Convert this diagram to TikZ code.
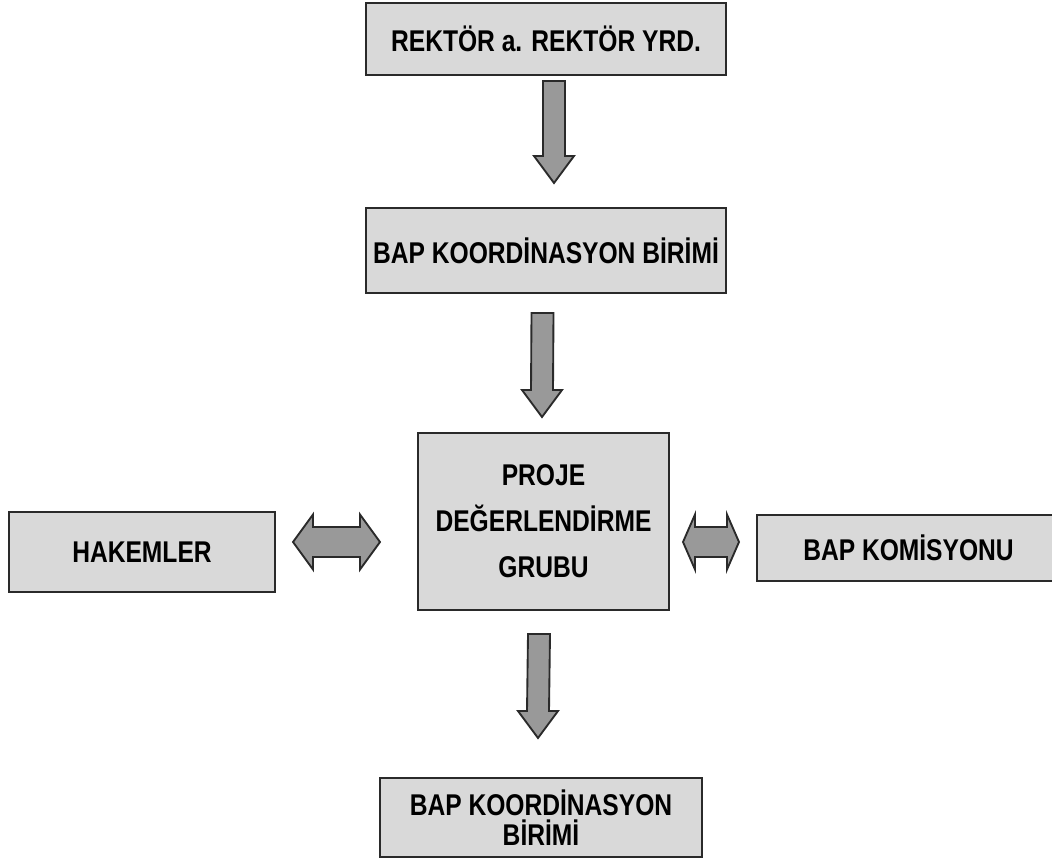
\documentclass[tikz,border=0pt]{standalone}
\usepackage{fontspec}
\setmainfont{Liberation Sans}[FakeStretch=0.82]
\usetikzlibrary{calc}

\definecolor{kutugri}{HTML}{D9D9D9}
\definecolor{okgri}{HTML}{999999}
\definecolor{kenar}{HTML}{2A2A2A}

\tikzset{
  kutu/.style={draw=kenar, line width=1.5pt, fill=kutugri, inner sep=0pt,
    align=center, font=\fontsize{22.5}{34.5}\selectfont\bfseries},
  okstil/.style={draw=kenar, line width=1.4pt, fill=okgri, line join=miter}
}

\newcommand{\asagiok}[2]{%
  \draw[okstil] ($(#1)+(-11,0)$) -- ($(#2)+(-11,-27)$) -- ($(#2)+(-20,-27)$)
    -- (#2) -- ($(#2)+(20,-27)$) -- ($(#2)+(11,-27)$) -- ($(#1)+(11,0)$) -- cycle;}
\newcommand{\ciftok}[3]{%
  \draw[okstil] (#1) -- ($(#1)+(#3,-27.5)$) -- ($(#1)+(#3,-15)$)
    -- ($(#2)+(-#3,-15)$) -- ($(#2)+(-#3,-27.5)$) -- (#2)
    -- ($(#2)+(-#3,27.5)$) -- ($(#2)+(-#3,15)$)
    -- ($(#1)+(#3,15)$) -- ($(#1)+(#3,27.5)$) -- cycle;}

\begin{document}
\begin{tikzpicture}[x=0.75pt, y=-0.75pt]
        \useasboundingbox (0,0) rectangle (1052,859);
        \clip (0,0) rectangle (1052,859);
        \node[kutu, minimum width=270pt, minimum height=54pt] (rektor) at (546,39) {REKTÖR a. REKTÖR YRD.};
        \node[kutu, minimum width=270pt, minimum height=63.75pt] (bap) at (546,250.5) {BAP KOORDİNASYON BİRİMİ};
        \node[kutu, minimum width=188.25pt, minimum height=132.75pt] (grup) at (543.5,521.5) {PROJE\\DEĞERLENDİRME\\GRUBU};
        \node[kutu, minimum width=199.5pt, minimum height=60pt] (hakem) at (142,552) {HAKEMLER};
        \node[kutu, minimum width=227.25pt, minimum height=49.5pt] (komisyon) at (908.5,548) {BAP KOMİSYONU};
        \node[kutu, minimum width=241.5pt, minimum height=59.25pt,
          font=\fontsize{22.5}{22.5}\selectfont\bfseries] (son) at (541,817.5) {BAP KOORDİNASYON\\BİRİMİ};

        \coordinate (a1) at ($(rektor.south)+(8,5)$);
        \coordinate (b1) at ($(bap.north)+(8,-24)$);
        \coordinate (a2) at ($(bap.south)+(-3.5,19)$);
        \coordinate (b2) at ($(grup.north)+(-1.5,-15)$);
        \coordinate (a3) at ($(grup.south)+(-4.5,23)$);
        \coordinate (b3) at ($(son.north)+(-3,-39)$);
        \asagiok{a1}{b1}
        \asagiok{a2}{b2}
        \asagiok{a3}{b3}

        \coordinate (sol1) at ($(hakem.east)+(17,-10)$);
        \coordinate (sol2) at ($(grup.west)+(-37,20.5)$);
        \coordinate (sag1) at ($(grup.east)+(13,20.5)$);
        \coordinate (sag2) at ($(komisyon.west)+(-17,-6)$);
        \ciftok{sol1}{sol2}{20}
        \ciftok{sag1}{sag2}{12}
      \end{tikzpicture}
\end{document}
